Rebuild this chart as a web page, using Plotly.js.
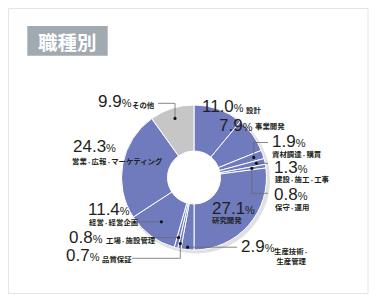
<!DOCTYPE html>
<html>
<head>
<meta charset="utf-8">
<script src="https://cdn.plot.ly/plotly-3.0.1.min.js"></script>
<style>
  html, body { margin: 0; padding: 0; background: #ffffff; }
  #chart { width: 375px; height: 302px; }
</style>
</head>
<body>
<div id="chart"></div>
<script>
// ---- data ----
const title = '職種別';
const categories = ['設計', '事業開発', '資材調達・購買', '建設・施工・工事', '保守・運用', '研究開発',
                    '生産技術・生産管理', '品質保証', '工場・施設管理', '経営・経営企画', '営業・広報・マーケティング', 'その他'];
const values = [11.0, 7.9, 1.9, 1.3, 0.8, 27.1, 2.9, 0.7, 0.8, 11.4, 24.3, 9.9];
const displayLabels = ['設計', '事業開発', '資材調達・購買', '建設・施工・工事', '保守・運用', '研究開発',
                       '生産技術・<br>生産管理', '品質保証', '工場・施設管理', '経営・経営企画', '営業・広報・マーケティング', 'その他'];

// ---- styles / layout (pixel geometry) ----
const W = 375, H = 302;
const BLUE = '#6f7bbd', GREY = '#c6c6c6';
const sliceColors = categories.map(c => c === 'その他' ? GREY : BLUE);
const cx = 194, cy = 177.5, R = 72.5, HOLE_R = 26.5;
const NUM_FONT = 'Liberation Sans, Arial, sans-serif';
const JP_FONT = 'Noto Sans CJK JP, sans-serif';
const INK = '#231f20';
const LEAD = '#6a6a6a';
const NUM_SIZE = 17, PCT_SIZE = 11, JP_SIZE = 7.4, DOT_SIZE = 4.8;

// label placement (pixels): number at n (left x, center y), sub label at s (x, center y, anchor)
const labelPos = [
  {n: [201, 107], s: [245, 110, 'left']},
  {n: [218, 125.5], s: [254, 125, 'left']},
  {n: [271, 141.7], s: [271, 153.5, 'left'], lead: {r: 63, bend: 142.5, endX: 268}},
  {n: [273, 167], s: [274, 178.2, 'left'], lead: {r: 64, bend: null, endX: 268}},
  {n: [273, 194.5], s: [274, 206.7, 'left'], lead: {r: 58.5, bend: 193.3, endX: 268}},
  {n: [210.5, 208], s: [211, 219.5, 'left']},
  {n: [240, 246.7], s: [291, 255, 'center'], lead: {r: 70, bend: null, endX: 237}},
  {n: [65, 255], s: [101, 258, 'left'], lead: {r: 67.5, bend: 258.3, endX: 132}},
  {n: [68, 237.5], s: [104.5, 239, 'left'], lead: {r: 62, bend: null, endX: 150}},
  {n: [87, 209.7], s: [87.5, 221.7, 'left'], lead: {r: 55, bend: null, endX: 139}},
  {n: [71.5, 146.7], s: [71, 160, 'left']},
  {n: [96.5, 102], s: [131, 104, 'left'], lead: {r: 62, bend: 103.3, endX: 158}}
];

const px = x => x / W;
const py = y => 1 - y / H;
// the middle dot is set narrower, as in the printed original
const jp = t => '<b>' + t.replace(/・/g, `<span style="font-size:${DOT_SIZE}px">・</span>`) + '</b>';
const numText = v => v.toFixed(1) + `<span style="font-size:${PCT_SIZE}px">%</span>`;

// ---- traces ----
const total = values.reduce((a, b) => a + b, 0);
const shadow = {
  type: 'pie', values: [1], sort: false, textinfo: 'none', hoverinfo: 'skip', showlegend: false,
  marker: {colors: ['rgba(0,0,0,0.12)'], line: {width: 0}},
  hole: (HOLE_R + 3) / (R + 1.5),
  domain: {x: [px(cx + 2 - R - 1.5), px(cx + 2 + R + 1.5)], y: [py(cy + 2 + R + 1.5), py(cy + 2 - R - 1.5)]}
};
const pie = {
  type: 'pie', labels: categories, values: values, sort: false, direction: 'clockwise', rotation: 0,
  textinfo: 'none', hoverinfo: 'label+percent', showlegend: false,
  hole: HOLE_R / R,
  marker: {colors: sliceColors, line: {color: '#ffffff', width: 1}},
  domain: {x: [px(cx - R), px(cx + R)], y: [py(cy + R), py(cy - R)]}
};

// ---- annotations & shapes ----
const annotations = [];
const shapes = [];

// frame + title box
shapes.push({type: 'rect', xref: 'paper', yref: 'paper', layer: 'below',
  x0: px(8.5), x1: px(368), y0: py(293.5), y1: py(8.5),
  line: {color: '#e4e4e4', width: 1}, fillcolor: '#ffffff'});
shapes.push({type: 'rect', xref: 'paper', yref: 'paper', layer: 'below',
  x0: px(27.3), x1: px(107.7), y0: py(55.7), y1: py(26),
  line: {width: 0}, fillcolor: '#a1aab1'});
annotations.push({xref: 'paper', yref: 'paper', x: px(67.5), y: py(41), xanchor: 'center', yanchor: 'middle',
  text: '<b>' + title + '</b>', showarrow: false, borderpad: 0,
  font: {family: JP_FONT, size: 19.5, color: '#ffffff'}});

let cum = 0;
values.forEach((v, i) => {
  const mid = (cum + v / 2) / total * 2 * Math.PI;
  cum += v;
  const p = labelPos[i];
  annotations.push({xref: 'paper', yref: 'paper', x: px(p.n[0]), y: py(p.n[1]), xanchor: 'left', yanchor: 'middle',
    text: numText(v), showarrow: false, borderpad: 0,
    font: {family: NUM_FONT, size: NUM_SIZE, color: INK}});
  annotations.push({xref: 'paper', yref: 'paper', x: px(p.s[0]), y: py(p.s[1]), xanchor: p.s[2], yanchor: 'middle',
    align: 'center', text: jp(displayLabels[i]), showarrow: false, borderpad: 0,
    font: {family: JP_FONT, size: JP_SIZE, color: INK}});
  if (p.lead) {
    const dx = cx + p.lead.r * Math.sin(mid);
    const dy = cy - p.lead.r * Math.cos(mid);
    let path;
    if (p.lead.bend !== null) {
      path = `M ${px(dx)} ${py(dy)} L ${px(dx)} ${py(p.lead.bend)} L ${px(p.lead.endX)} ${py(p.lead.bend)}`;
    } else {
      path = `M ${px(dx)} ${py(dy)} L ${px(p.lead.endX)} ${py(dy)}`;
    }
    shapes.push({type: 'path', xref: 'paper', yref: 'paper', layer: 'above', path: path,
      line: {color: LEAD, width: 0.8}});
    const dr = 1.6;
    shapes.push({type: 'circle', xref: 'paper', yref: 'paper', layer: 'above',
      x0: px(dx - dr), x1: px(dx + dr), y0: py(dy + dr), y1: py(dy - dr),
      line: {width: 0}, fillcolor: '#111111'});
  }
});

const layout = {
  width: W, height: H,
  margin: {l: 0, r: 0, t: 0, b: 0, pad: 0},
  paper_bgcolor: '#ffffff',
  showlegend: false,
  annotations: annotations,
  shapes: shapes
};

Plotly.newPlot('chart', [shadow, pie], layout, {displayModeBar: false, staticPlot: true});
</script>
</body>
</html>
